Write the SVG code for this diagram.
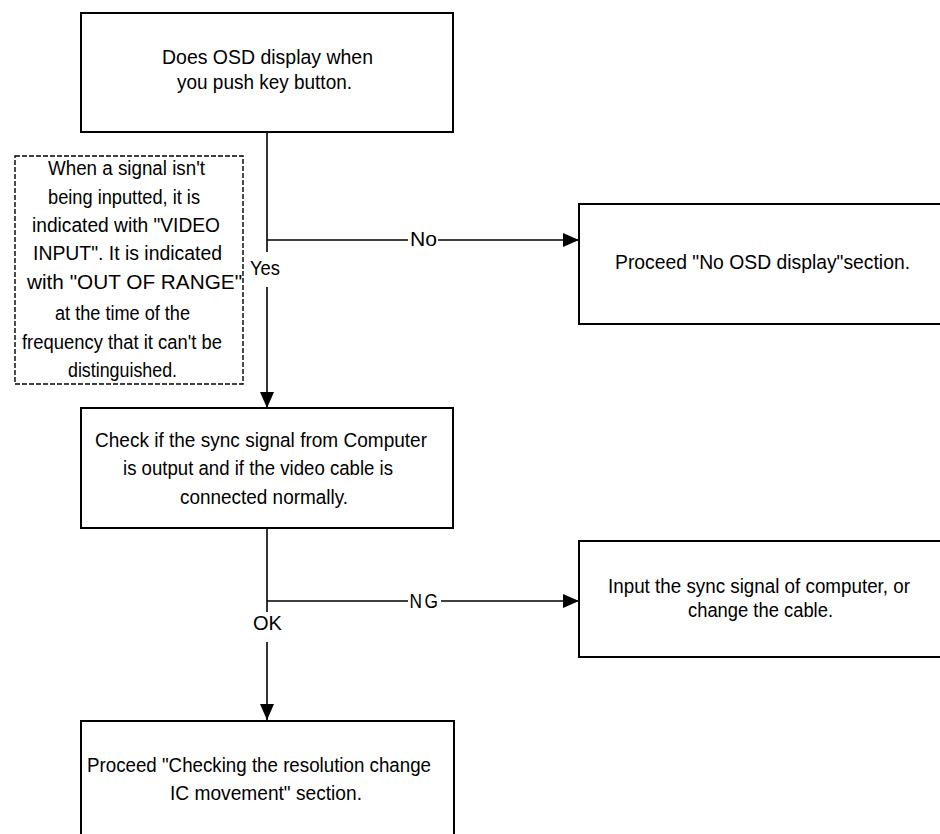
<svg xmlns="http://www.w3.org/2000/svg" width="940" height="834" viewBox="0 0 940 834">
<defs>
<style>
.box{fill:#fff;stroke:#000;stroke-width:2}
.dash{fill:#fff;stroke:#000;stroke-width:1.4;stroke-dasharray:5,2}
.ln{fill:none;stroke:#000;stroke-width:1.6}
text{font-family:"Liberation Sans",Arial,sans-serif;font-size:20.5px;fill:#000;text-anchor:middle}
.sm{font-size:20px}
</style>
<marker id="arr" markerUnits="userSpaceOnUse" markerWidth="17" markerHeight="14" refX="16" refY="7" orient="auto">
<path d="M0,0 L16,7 L0,14 Z" fill="#000"/>
</marker>
</defs>
<rect width="940" height="834" fill="#fff"/>
<g id="connectors">
<path class="ln" d="M267,132 V252"/>
<path class="ln" d="M267,287 V408" marker-end="url(#arr)"/>
<path class="ln" d="M267,240 H408"/>
<path class="ln" d="M438,240 H579" marker-end="url(#arr)"/>
<path class="ln" d="M267,528 V612"/>
<path class="ln" d="M267,642 V720" marker-end="url(#arr)"/>
<path class="ln" d="M267,601 H408"/>
<path class="ln" d="M441,601 H579" marker-end="url(#arr)"/>
<text x="265" y="275" textLength="30" lengthAdjust="spacingAndGlyphs">Yes</text>
<text x="423.5" y="246" textLength="27" lengthAdjust="spacingAndGlyphs">No</text>
<text x="425" y="608" letter-spacing="3" textLength="31" lengthAdjust="spacingAndGlyphs">NG</text>
<text x="267.5" y="630" textLength="29" lengthAdjust="spacingAndGlyphs">OK</text>
</g>
<g id="n1">
<rect class="box" x="81" y="13" width="372" height="119"/>
<text x="267.5" y="64" textLength="211" lengthAdjust="spacingAndGlyphs">Does OSD display when</text>
<text x="264.5" y="89" textLength="175" lengthAdjust="spacingAndGlyphs">you push key button.</text>
</g>
<g id="note">
<rect class="dash" x="15" y="156" width="228" height="228"/>
<text class="sm" x="126.5" y="175" textLength="157" lengthAdjust="spacingAndGlyphs">When a signal isn't</text>
<text class="sm" x="124" y="204" textLength="152" lengthAdjust="spacingAndGlyphs">being inputted, it is</text>
<text class="sm" x="126" y="232" textLength="188" lengthAdjust="spacingAndGlyphs">indicated with "VIDEO</text>
<text class="sm" x="127.5" y="260" textLength="189" lengthAdjust="spacingAndGlyphs">INPUT". It is indicated</text>
<text class="sm" x="134.5" y="289" textLength="215" lengthAdjust="spacingAndGlyphs">with "OUT OF RANGE"</text>
<text class="sm" x="122.5" y="320" textLength="135" lengthAdjust="spacingAndGlyphs">at the time of the</text>
<text class="sm" x="122" y="349" textLength="200" lengthAdjust="spacingAndGlyphs">frequency that it can't be</text>
<text class="sm" x="122.5" y="377" textLength="109" lengthAdjust="spacingAndGlyphs">distinguished.</text>
</g>
<g id="n2">
<rect class="box" x="579" y="204" width="380" height="120"/>
<text x="762.5" y="269" textLength="295" lengthAdjust="spacingAndGlyphs">Proceed "No OSD display"section.</text>
</g>
<g id="n3">
<rect class="box" x="81" y="408" width="372" height="120"/>
<text x="261" y="447" textLength="332" lengthAdjust="spacingAndGlyphs">Check if the sync signal from Computer</text>
<text x="258" y="475" textLength="270" lengthAdjust="spacingAndGlyphs">is output and if the video cable is</text>
<text x="264" y="504" textLength="168" lengthAdjust="spacingAndGlyphs">connected normally.</text>
</g>
<g id="n4">
<rect class="box" x="579" y="541" width="380" height="116"/>
<text class="sm" x="759" y="593" textLength="302" lengthAdjust="spacingAndGlyphs">Input the sync signal of computer, or</text>
<text class="sm" x="760.5" y="617" textLength="145" lengthAdjust="spacingAndGlyphs">change the cable.</text>
</g>
<g id="n5">
<rect class="box" x="81" y="721" width="373" height="130"/>
<text x="259" y="772" textLength="344" lengthAdjust="spacingAndGlyphs">Proceed "Checking the resolution change</text>
<text x="266" y="800" textLength="192" lengthAdjust="spacingAndGlyphs">IC movement" section.</text>
</g>
</svg>
